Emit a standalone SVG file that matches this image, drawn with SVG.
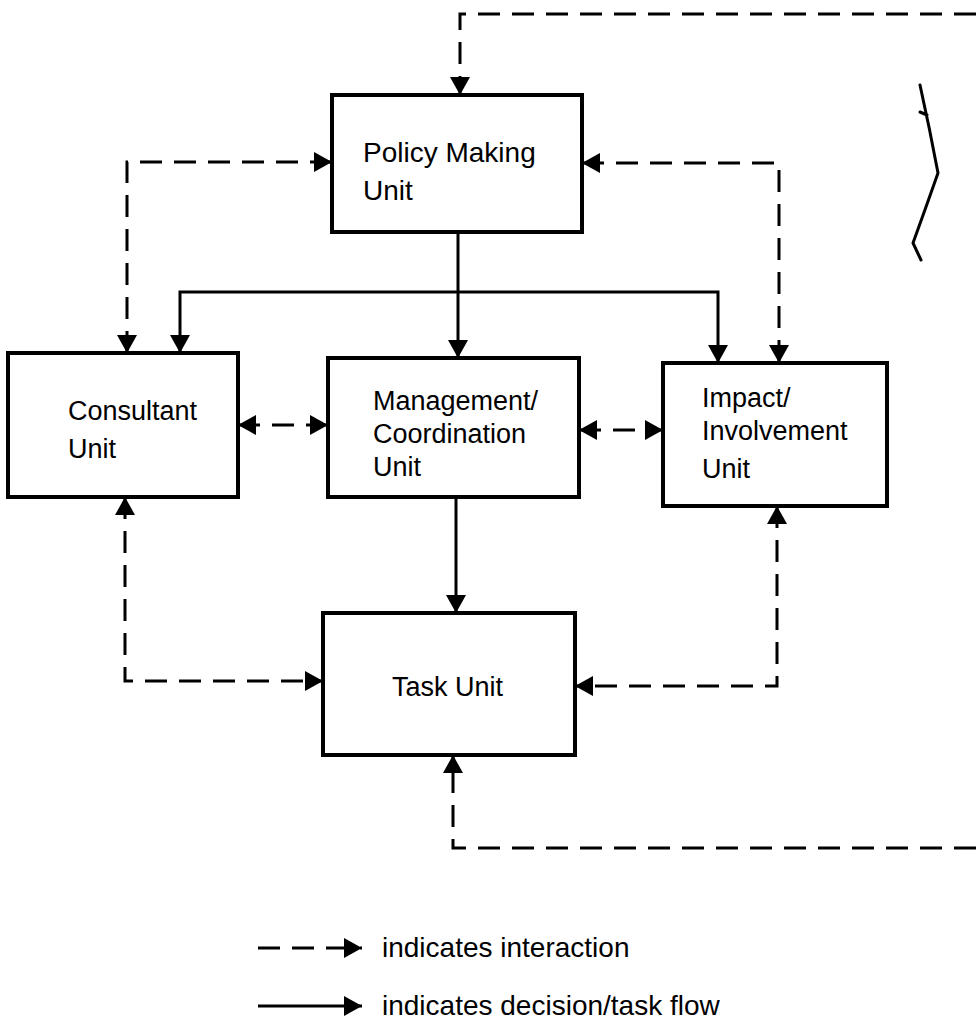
<svg xmlns="http://www.w3.org/2000/svg" width="976" height="1030" viewBox="0 0 976 1030">
<style>
.box{fill:#fff;stroke:#000;stroke-width:4}
.lbl{font-family:"Liberation Sans",Arial,sans-serif;font-size:27px;fill:#000}
.big{font-size:28px}
.dash{fill:none;stroke:#000;stroke-width:3;stroke-dasharray:22 12}
.solid{fill:none;stroke:#000;stroke-width:3}
</style>
<defs>
<marker id="ah" markerUnits="userSpaceOnUse" markerWidth="20" markerHeight="22" refX="18" refY="11" orient="auto-start-reverse">
<path d="M0,1 L18,11 L0,21 z" fill="#000" stroke="none"/>
</marker>
</defs>
<rect width="976" height="1030" fill="#fff"/>
<g id="connectors">
<path class="dash" d="M976,14 H460 V95" marker-end="url(#ah)"/>
<path class="dash" d="M332,162 H127 V353" marker-start="url(#ah)" marker-end="url(#ah)"/>
<path class="dash" d="M582,163 H779 V363" marker-start="url(#ah)" marker-end="url(#ah)"/>
<path class="solid" d="M458,232 V358" marker-end="url(#ah)"/>
<path class="solid" d="M180,353 V292 H718 V363" marker-start="url(#ah)" marker-end="url(#ah)"/>
<path class="dash" d="M238,425 H328" marker-start="url(#ah)" marker-end="url(#ah)"/>
<path class="dash" d="M579,430 H663" marker-start="url(#ah)" marker-end="url(#ah)"/>
<path class="dash" d="M125,497 V681 H323" marker-start="url(#ah)" marker-end="url(#ah)"/>
<path class="dash" d="M777,506 V686 H575" marker-start="url(#ah)" marker-end="url(#ah)"/>
<path class="solid" d="M456,497 V613" marker-end="url(#ah)"/>
<path class="dash" d="M976,848 H453 V755" marker-end="url(#ah)"/>
</g>
<g id="policy">
<rect class="box" x="332" y="95" width="250" height="137"/>
<text class="lbl big" x="363" y="162">Policy Making</text>
<text class="lbl big" x="363" y="200">Unit</text>
</g>
<g id="consultant">
<rect class="box" x="8" y="353" width="230" height="144"/>
<text class="lbl" x="68" y="420">Consultant</text>
<text class="lbl" x="68" y="458">Unit</text>
</g>
<g id="management">
<rect class="box" x="328" y="358" width="251" height="139"/>
<text class="lbl" x="373" y="410">Management/</text>
<text class="lbl" x="373" y="443">Coordination</text>
<text class="lbl" x="373" y="476">Unit</text>
</g>
<g id="impact">
<rect class="box" x="663" y="363" width="224" height="143"/>
<text class="lbl" x="702" y="407">Impact/</text>
<text class="lbl" x="702" y="440">Involvement</text>
<text class="lbl" x="702" y="478">Unit</text>
</g>
<g id="task">
<rect class="box" x="323" y="613" width="252" height="142"/>
<text class="lbl" x="392" y="696">Task Unit</text>
</g>
<g id="legend">
<path class="dash" d="M258,948 H362" marker-end="url(#ah)"/>
<text class="lbl big" x="382" y="957">indicates interaction</text>
<path class="solid" d="M258,1006 H362" marker-end="url(#ah)"/>
<text class="lbl big" x="382" y="1015">indicates decision/task flow</text>
</g>
<path d="M920,85 Q930,130 938,173 Q925,210 913,243 L921,260 M920,112 L927,115" fill="none" stroke="#000" stroke-width="3" stroke-linecap="round" stroke-linejoin="round"/>
</svg>
